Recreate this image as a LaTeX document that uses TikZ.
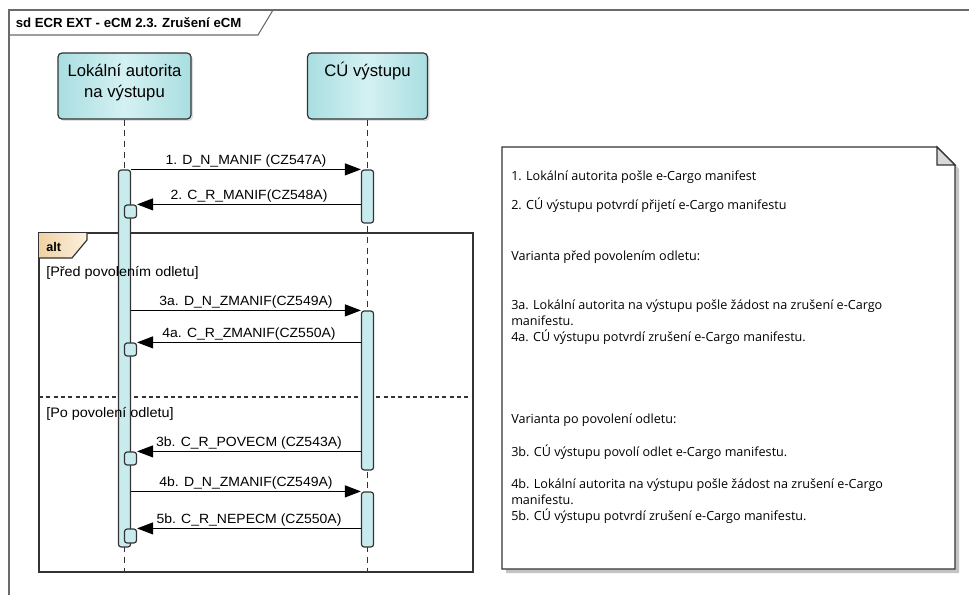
\documentclass[tikz,border=0pt]{standalone}
\usepackage{fontspec}
\setmainfont{Liberation Sans}
\newfontfamily\notefont{Open Sans}
\newfontfamily\lblfont[FakeStretch=1.05]{Liberation Sans}
\usetikzlibrary{arrows.meta,fit,shadows}
\definecolor{lineclr}{HTML}{333333}
\definecolor{partL}{HTML}{A9DEE1}
\definecolor{partM}{HTML}{D4F1F2}
\definecolor{barfill}{HTML}{C8ECEE}
\definecolor{tabL}{HTML}{F0D2A4}
\definecolor{tabR}{HTML}{FCF0DE}
\definecolor{foldclr}{HTML}{D9D9D9}
\definecolor{shadowclr}{HTML}{C4C4C4}
\definecolor{frameclr}{HTML}{6A6A6A}
\begin{document}
\begin{tikzpicture}[x=0.75pt,y=-0.75pt,
  partbox/.style={draw=lineclr, line width=0.9pt, rounded corners=3pt, inner sep=0pt,
    left color=partL, right color=partL, middle color=partM,
    drop shadow={opacity=0.25, shadow xshift=1.5pt, shadow yshift=-1.5pt}},
  parttext/.style={align=center, inner sep=0pt, font=\fontsize{12.5}{15.75}\selectfont},
  actbar/.style={draw=lineclr, line width=0.9pt, rounded corners=2pt, inner sep=0pt, fill=barfill},
  lifeline/.style={draw=lineclr, line width=0.8pt, dash pattern=on 4.5pt off 3.5pt},
  msg/.style={draw=black, line width=0.75pt, -{Triangle[length=12pt,width=9pt]}},
  lbl/.style={font=\lblfont\fontsize{10}{12}\selectfont, inner sep=1pt, anchor=south, midway},
  guard/.style={font=\lblfont\fontsize{10.3}{12}\selectfont, inner sep=0pt, anchor=west},
  notetxt/.style={anchor=west, inner sep=0pt, font=\notefont\fontsize{9.45}{11}\selectfont, text height=7pt, text depth=1.7pt},
  boldlbl/.style={font=\bfseries\fontsize{9.45}{11}\selectfont, inner sep=0pt, anchor=west},
  titlelbl/.style={font=\bfseries\fontsize{9.9}{11}\selectfont, inner sep=0pt, anchor=west}
]
\useasboundingbox (0,0) rectangle (969,595);

% outer frame
\draw[frameclr, line width=0.8pt] (969,10) -- (9,10) -- (9,595);
\draw[frameclr, line width=0.8pt] (9,35) -- (258,35) -- (273,10);
\node[titlelbl] (title) at (15.5,22.5) {sd ECR EXT - eCM 2.3. Zrušení eCM};

% alt fragment
\node[draw=lineclr, line width=1pt, inner sep=0pt, fit={(39,233) (473,572)}] (alt) {};
\path[left color=tabL, right color=tabR] (39,233) -- (87,233) -- (87,240) -- (72,258) -- (39,258) -- cycle;
\draw[lineclr, line width=0.9pt] (39,258) -- (72,258) -- (87,240) -- (87,233);
\node[boldlbl] (altlbl) at (46,247) {alt};
\draw[lineclr, line width=0.8pt, dash pattern=on 3pt off 2.5pt] (39,397) -- (473,397);
\coordinate (lend) at (0,572);

% participants
\node[partbox, fit={(58,53) (191,119)}] (pA) {};
\node[parttext] (pAt) at (124.5,82.5) {Lokální autorita\\na výstupu};
\node[partbox, fit={(307.5,53) (427.5,119)}] (pB) {};
\node[parttext] (pBt) at (367.5,71) {CÚ výstupu};

% lifelines
\draw[lifeline] (pA.south) -- (pA.south |- lend);
\draw[lifeline] (pB.south) -- (pB.south |- lend);

% activation bars
\node[actbar, fit={(118.5,170) (130.5,547)}] (barL) {};
\node[actbar, fit={(361.5,170) (373.5,223)}] (barR1) {};
\node[actbar, fit={(361.5,311) (373.5,470)}] (barR2) {};
\node[actbar, fit={(361.5,492) (373.5,547)}] (barR3) {};
\node[actbar, fit={(124.5,205) (136.5,218)}] (sL1) {};
\node[actbar, fit={(124.5,343) (136.5,356)}] (sL2) {};
\node[actbar, fit={(124.5,452) (136.5,465)}] (sL3) {};
\node[actbar, fit={(124.5,529) (136.5,543)}] (sL4) {};

% guards
\node[guard] (g1) at (46,273) {[Před povolením odletu]};
\node[guard] (g2) at (46,414) {[Po povolení odletu]};

% messages
\draw[msg] (barL.east |- barR1.north west) -- (barR1.north west) node[lbl] (m1) {1. D\_N\_MANIF (CZ547A)};
\draw[msg] (barR1.west |- sL1.north east) -- (sL1.north east) node[lbl] (m2) {2. C\_R\_MANIF(CZ548A)};
\draw[msg] (barL.east |- barR2.north west) -- (barR2.north west) node[lbl] (m3a) {3a. D\_N\_ZMANIF(CZ549A)};
\draw[msg] (barR2.west |- sL2.north east) -- (sL2.north east) node[lbl] (m4a) {4a. C\_R\_ZMANIF(CZ550A)};
\draw[msg] (barR2.west |- sL3.north east) -- (sL3.north east) node[lbl] (m3b) {3b. C\_R\_POVECM (CZ543A)};
\draw[msg] (barL.east |- barR3.north west) -- (barR3.north west) node[lbl] (m4b) {4b. D\_N\_ZMANIF(CZ549A)};
\draw[msg] (barR3.west |- sL4.north east) -- (sL4.north east) node[lbl] (m5b) {5b. C\_R\_NEPECM (CZ550A)};

% note
\fill[shadowclr] (506,151) -- (941,151) -- (959,169) -- (959,573) -- (506,573) -- cycle;
\draw[lineclr, fill=white, line width=0.9pt] (502,147) -- (937,147) -- (955,165) -- (955,569) -- (502,569) -- cycle;
\draw[lineclr, fill=foldclr, line width=0.9pt] (937,147) -- (937,165) -- (955,165) -- cycle;
\node[notetxt] (n1) at (511,177) {1. Lokální autorita pošle e-Cargo manifest};
\node[notetxt] (n2) at (511,206) {2. CÚ výstupu potvrdí přijetí e-Cargo manifestu};
\node[notetxt] (n3) at (511,257) {Varianta před povolením odletu:};
\node[notetxt] (n4) at (511,306) {3a. Lokální autorita na výstupu pošle žádost na zrušení e-Cargo};
\node[notetxt] (n5) at (511,322) {manifestu.};
\node[notetxt] (n6) at (511,338) {4a. CÚ výstupu potvrdí zrušení e-Cargo manifestu.};
\node[notetxt] (n7) at (511,420) {Varianta po povolení odletu:};
\node[notetxt] (n8) at (511,452.5) {3b. CÚ výstupu povolí odlet e-Cargo manifestu.};
\node[notetxt] (n9) at (511,485) {4b. Lokální autorita na výstupu pošle žádost na zrušení e-Cargo};
\node[notetxt] (n10) at (511,501) {manifestu.};
\node[notetxt] (n11) at (511,517) {5b. CÚ výstupu potvrdí zrušení e-Cargo manifestu.};
\end{tikzpicture}
\end{document}
